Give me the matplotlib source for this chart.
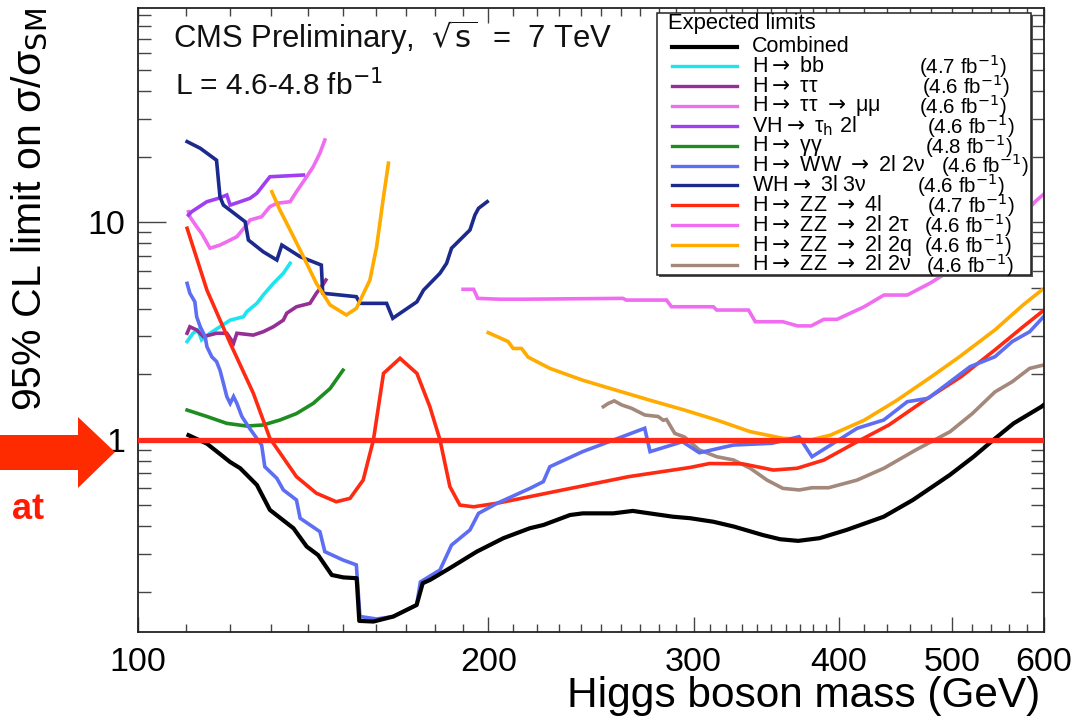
import matplotlib
matplotlib.use("Agg")
import matplotlib.pyplot as plt
from matplotlib.patches import Polygon, Rectangle
from matplotlib.lines import Line2D
from matplotlib.ticker import FixedLocator, NullFormatter, FixedFormatter

plt.rcParams['font.family'] = ['Liberation Sans', 'DejaVu Sans']
plt.rcParams['mathtext.fontset'] = 'dejavusans'

# ---------------- data ----------------
comb_m = [110.5, 114.6, 120, 122.4, 126.5, 129.8, 136, 139.6, 142.8, 146.7, 150.1, 154.1, 154.9,
          159.3, 165.7, 173.5, 175.6, 178.2, 185.3, 195.4, 206, 217, 223, 235, 241, 256, 266, 275,
          288, 298, 312, 325, 344, 356, 369, 385, 406, 437, 463, 498, 522, 543, 565, 597, 600]
comb_v = [1.05, 0.96, 0.79, 0.74, 0.62, 0.476, 0.392, 0.323, 0.295, 0.239, 0.233, 0.231, 0.147,
          0.146, 0.154, 0.174, 0.219, 0.227, 0.257, 0.306, 0.353, 0.392, 0.406, 0.451, 0.459, 0.459,
          0.471, 0.459, 0.443, 0.436, 0.420, 0.399, 0.365, 0.349, 0.343, 0.353, 0.385, 0.443, 0.529,
          0.689, 0.836, 1.0, 1.19, 1.42, 1.45]

bb_m = [110.2, 111.5, 112.6, 113.4, 115.3, 117.6, 120, 123.2, 124, 126.5, 128.1, 130.7, 133.3, 135.1]
bb_v = [2.83, 3.09, 3.2, 2.88, 3.09, 3.31, 3.55, 3.68, 3.88, 4.24, 4.63, 5.24, 5.83, 6.48]

tt_m = [110.2, 110.8, 112.3, 113.8, 116.8, 119.2, 120.8, 121.6, 125.6, 128.1, 130.7, 133.3,
        134.2, 136.8, 140.5, 142.3, 144.1, 145]
tt_v = [3.09, 3.31, 3.2, 2.98, 3.09, 3.09, 2.78, 3.09, 3.03, 3.14, 3.31, 3.55, 3.82, 4.09,
        4.24, 4.72, 5.15, 5.43]

ttmm_m = [110.5, 110.8, 112.3, 113.4, 115.3, 117.6, 119.2, 121.6, 123.6, 124.8, 127.7, 129.8,
          131.6, 135.1, 136.8, 139.6, 141.4, 143.3, 144.7]
ttmm_v = [11.19, 10.61, 9.55, 8.9, 7.6, 7.86, 8.14, 8.59, 9.55, 10.25, 10.61, 11.8, 12.23,
          12.44, 13.83, 16.2, 18.0, 20.8, 23.9]

vh_m = [110.5, 111.2, 114.6, 117.3, 119.2, 120, 122.4, 124.8, 126.5, 129.8, 138.7]
vh_v = [10.8, 11.19, 12.44, 12.9, 13.35, 12.0, 12.44, 12.9, 13.6, 16.2, 16.5]

gg_m = [110.2, 114.6, 119.2, 124, 128.1, 132.4, 136.8, 141.4, 146.2, 150]
gg_v = [1.37, 1.28, 1.19, 1.157, 1.17, 1.233, 1.32, 1.47, 1.72, 2.09]

ww_m = [110.2, 110.8, 111.9, 112.3, 113.1, 114.2, 114.6, 115.7, 116.8, 117.6, 118.4, 119.2, 120,
        120.8, 121.6, 122.8, 124.4, 125.6, 127.7, 128.5, 131.6, 133.3, 136.8, 137.8, 143.3, 144.7,
        150, 154, 155.1, 160.3, 165.7, 173.5, 174.8, 181.7, 185.9, 192.8, 196.1, 203.5, 217.1,
        222.9, 225.8, 240.9, 272.4, 275.3, 293.5, 303.5, 324.6, 350.5, 369.6, 379.2, 414.7, 437,
        457.9, 477.2, 518.5, 544.5, 563.5, 583.2, 600]
ww_v = [5.24, 4.72, 4.31, 3.68, 3.31, 2.98, 2.68, 2.41, 2.29, 2.09, 1.82, 1.58, 1.47, 1.58, 1.47,
        1.28, 1.15, 1.07, 0.946, 0.752, 0.665, 0.588, 0.529, 0.436, 0.378, 0.306, 0.280, 0.266,
        0.154, 0.150, 0.154, 0.174, 0.222, 0.252, 0.328, 0.385, 0.459, 0.511, 0.598, 0.642, 0.752,
        0.882, 1.13, 0.882, 0.980, 0.872, 0.946, 0.964, 1.033, 0.836, 1.13, 1.233, 1.497, 1.552,
        2.17, 2.41, 2.83, 3.14, 3.7]

wh_m = [110.2, 113.1, 116.8, 117.6, 118.4, 123.6, 124.4, 128.1, 131.6, 132.9, 137.8, 143.7, 144.1,
        154, 155.1, 163.5, 165.5, 173.6, 175.9, 181.7, 184.1, 185.9, 192.8, 194.7, 196.1, 199.5]
wh_v = [23.5, 21.9, 19.3, 13.1, 12.0, 10.06, 8.29, 7.32, 6.71, 7.86, 6.95, 6.36, 4.72, 4.55,
        4.24, 4.24, 3.62, 4.31, 4.88, 5.83, 6.48, 7.6, 9.22, 10.8, 11.6, 12.44]

zz4l_m = [110.2, 114.6, 120, 125.6, 129.8, 136.8, 142.3, 148, 152.1, 156.1, 159.3, 162.5, 167.9,
          173.6, 178.1, 181.7, 185.3, 189, 194.2, 203.5, 217.1, 231.6, 263.9, 297.9, 309.7, 330.7,
          351.3, 368.3, 388.2, 414.7, 441.5, 474.3, 509.2, 544.5, 575.7, 600]
zz4l_v = [9.39, 4.88, 2.78, 1.64, 1.016, 0.677, 0.568, 0.519, 0.538, 0.653, 1.0, 2.02, 2.37,
          2.02, 1.42, 1.0, 0.609, 0.501, 0.492, 0.511, 0.548, 0.588, 0.677, 0.746, 0.778, 0.775,
          0.726, 0.74, 0.807, 0.98, 1.17, 1.524, 1.95, 2.59, 3.31, 3.95]

zz2t_m = [190.2, 194.2, 195.8, 204.5, 214, 260.9, 262.6, 284.4, 287.2, 312, 314.1, 334.5, 339,
          358, 368.5, 378.6, 388.2, 398.5, 420.4, 437.2, 457.9, 479.8, 507, 548.8, 590, 600]
zz2t_v = [4.92, 4.92, 4.47, 4.43, 4.43, 4.47, 4.39, 4.39, 4.09, 4.09, 3.95, 3.95, 3.49, 3.49,
          3.34, 3.34, 3.58, 3.58, 4.09, 4.63, 4.63, 5.28, 6.36, 8.0, 12.5, 13.5]

zz2q_low_m = [130.3, 132.4, 135.1, 138.7, 142.3, 146.2, 151, 154, 158.2, 160.3, 162.5, 164.1]
zz2q_low_v = [13.83, 11.39, 9.22, 6.95, 5.24, 4.17, 3.75, 4.02, 5.43, 7.72, 13.1, 18.7]
zz2q_high_m = [199.9, 207.9, 210, 213.5, 216.3, 225.8, 240.9, 257.5, 275.3, 294.7, 314.5, 335.6,
               358, 378.6, 393.2, 420.4, 448.6, 480.2, 507.7, 544.5, 575.7, 597.3]
zz2q_high_v = [3.11, 2.83, 2.63, 2.63, 2.40, 2.13, 1.88, 1.69, 1.52, 1.37, 1.23, 1.09, 1.016,
               1.0, 1.05, 1.23, 1.52, 1.95, 2.41, 3.2, 4.17, 4.88]

zz2n_m = [251, 253.5, 256.5, 260.3, 265.4, 272.5, 279.7, 282.6, 284.4, 289.1, 294.7, 303.5,
          314.1, 324.6, 335.6, 346.9, 358, 369.8, 379.3, 391.9, 414.7, 437.2, 465.6, 498.3,
          520.7, 544.5, 563.5, 583.2, 600]
zz2n_v = [1.42, 1.47, 1.51, 1.446, 1.396, 1.30, 1.28, 1.23, 1.24, 1.07, 1.03, 0.898, 0.836,
          0.808, 0.740, 0.653, 0.598, 0.588, 0.602, 0.602, 0.653, 0.740, 0.898, 1.09, 1.32,
          1.66, 1.85, 2.13, 2.21]

ARR = "$\\rightarrow$"
legend_labels = ["Combined",
                 "H" + ARR + " bb",
                 "H" + ARR + " \u03c4\u03c4",
                 "H" + ARR + " \u03c4\u03c4 " + ARR + " \u03bc\u03bc",
                 "VH" + ARR + " \u03c4$_{\\mathrm{h}}$ 2l",
                 "H" + ARR + " \u03b3\u03b3",
                 "H" + ARR + " WW " + ARR + " 2l 2\u03bd",
                 "WH" + ARR + " 3l 3\u03bd",
                 "H" + ARR + " ZZ " + ARR + " 4l",
                 "H" + ARR + " ZZ " + ARR + " 2l 2\u03c4",
                 "H" + ARR + " ZZ " + ARR + " 2l 2q",
                 "H" + ARR + " ZZ " + ARR + " 2l 2\u03bd"]
legend_lumi = [None, "4.7", "4.6", "4.6", "4.6", "4.8", "4.6", "4.6", "4.7", "4.6", "4.6", "4.6"]

x_major = [100, 200, 300, 400, 500, 600]
x_major_labels = ["100", "200", "300", "400", "500", "600"]
x_minor = [110, 120, 130, 140, 150, 160, 170, 180, 190, 210, 220, 230, 240, 250, 260, 270, 280, 290,
           310, 320, 330, 340, 350, 360, 370, 380, 390, 420, 440, 460, 480, 520, 540, 560, 580]
y_major = [1, 10]
y_major_labels = ["1", "10"]

# ---------------- styles ----------------
C_COMB = "black"
C_BB = "#1ee4f2"
C_TT = "#952f96"
C_TTMM = "#f06cf0"
C_VH = "#a03ff2"
C_GG = "#1f8c22"
C_WW = "#5d6ef2"
C_WH = "#1b2a8c"
C_4L = "#ff2a12"
C_2T = "#f06cf0"
C_2Q = "#ffab00"
C_2N = "#a3887c"

W, H = 1076, 721
fig = plt.figure(figsize=(W / 100, H / 100), dpi=100)

def fx(px):
    return px / W

def fy(py):
    return 1 - py / H

ax = fig.add_axes([fx(138), fy(632), (1044 - 138) / W, (632 - 8) / H])
ax.set_xscale("log")
ax.set_yscale("log")
ax.set_xlim(100, 600)
ax.set_ylim(0.1307, 96.7)

lw = 2.6
series = [
    (bb_m, bb_v, C_BB), (tt_m, tt_v, C_TT), (ttmm_m, ttmm_v, C_TTMM), (vh_m, vh_v, C_VH),
    (gg_m, gg_v, C_GG), (wh_m, wh_v, C_WH), (zz2q_low_m, zz2q_low_v, C_2Q),
    (zz2q_high_m, zz2q_high_v, C_2Q), (zz2t_m, zz2t_v, C_2T), (zz2n_m, zz2n_v, C_2N),
    (zz4l_m, zz4l_v, C_4L), (ww_m, ww_v, C_WW),
]
for m, v, c in series:
    ax.plot(m, v, color=c, lw=lw, solid_joinstyle="miter", zorder=2)
ax.plot(comb_m, comb_v, color=C_COMB, lw=3.0, zorder=3)

ax.axhline(1.0, color="#ff2a1a", lw=3.8, zorder=4)

ax.xaxis.set_major_locator(FixedLocator(x_major))
ax.xaxis.set_major_formatter(FixedFormatter(x_major_labels))
ax.xaxis.set_minor_locator(FixedLocator(x_minor))
ax.xaxis.set_minor_formatter(NullFormatter())
ax.yaxis.set_major_locator(FixedLocator(y_major))
ax.yaxis.set_major_formatter(FixedFormatter(y_major_labels))
ax.yaxis.set_minor_locator(FixedLocator([0.2, 0.3, 0.4, 0.5, 0.6, 0.7, 0.8, 0.9,
                                         2, 3, 4, 5, 6, 7, 8, 9,
                                         20, 30, 40, 50, 60, 70, 80, 90]))
ax.yaxis.set_minor_formatter(NullFormatter())

ax.tick_params(axis="x", which="major", direction="in", top=True, length=11, width=1,
               color="#444444", labelsize=24.5, pad=11)
ax.tick_params(axis="x", which="minor", direction="in", top=True, length=6, width=1,
               color="#444444")
ax.tick_params(axis="y", which="major", direction="in", right=True, length=20, width=1,
               color="#444444", labelsize=24.5, pad=9)
ax.tick_params(axis="y", which="minor", direction="in", right=True, length=9.5, width=1,
               color="#444444")
for s in ax.spines.values():
    s.set_linewidth(1.3)
    s.set_color("#222222")

# texts
fig.text(fx(173), fy(48), "CMS Preliminary,  $\\sqrt{\\mathrm{s}}$  =  7 TeV", fontsize=22.3,
         va="baseline", ha="left", color="#111111")
fig.text(fx(175), fy(95), "L = 4.6-4.8 fb$^{\\mathrm{-1}}$", fontsize=21.5,
         va="baseline", ha="left", color="#111111")
fig.text(fx(1040), fy(707), "Higgs boson mass (GeV)", fontsize=30.5, ha="right", va="baseline")
fig.text(fx(29), fy(210), "95% CL limit on \u03c3/\u03c3$_{\\mathrm{SM}}$", fontsize=29.5,
         rotation=90, ha="center", va="center")

# legend (manual, ROOT style)
fig.patches.append(Rectangle((fx(659), fy(277)), (1033 - 659) / W, (277 - 15) / H,
                             transform=fig.transFigure, facecolor="#555555",
                             edgecolor="none", zorder=9))
fig.patches.append(Rectangle((fx(657), fy(275)), (1031 - 657) / W, (275 - 13) / H,
                             transform=fig.transFigure, facecolor="white",
                             edgecolor="#222222", lw=1.1, zorder=10))
fig.text(fx(668), fy(24), "Expected limits", fontsize=15.8, va="center", ha="left", zorder=11)
colors = [C_COMB, C_BB, C_TT, C_TTMM, C_VH, C_GG, C_WW, C_WH, C_4L, C_2T, C_2Q, C_2N]
lumi_x = [0, 919, 922, 919, 927, 925, 941, 917, 927, 924, 924, 926]
for i, (lab, lum, col) in enumerate(zip(legend_labels, legend_lumi, colors)):
    yy = 46.5 + i * 19.85
    fig.lines.append(Line2D([fx(672), fx(737)], [fy(yy), fy(yy)], transform=fig.transFigure,
                            color=col, lw=3.0 if i == 0 else 2.4, zorder=11))
    fig.text(fx(752), fy(yy), lab, fontsize=15.5, va="center", ha="left", zorder=11)
    if lum is not None:
        fig.text(fx(lumi_x[i]), fy(yy), "(" + lum + " fb$^{\\mathrm{-1}}$)", fontsize=14.8,
                 va="center", ha="left", zorder=11)

# red arrow and partial text at the left
arrow_px = [(0, 435), (78, 435), (78, 417), (115, 452), (78, 488), (78, 470), (0, 470)]
fig.patches.append(Polygon([(fx(a), fy(b)) for a, b in arrow_px], closed=True,
                           transform=fig.transFigure, facecolor="#ff2b00",
                           edgecolor="none", zorder=12))
fig.text(fx(12), fy(519), "at", fontsize=26, fontweight="bold", color="#ff1a00",
         ha="left", va="baseline")

fig.savefig("out.png", dpi=100)
